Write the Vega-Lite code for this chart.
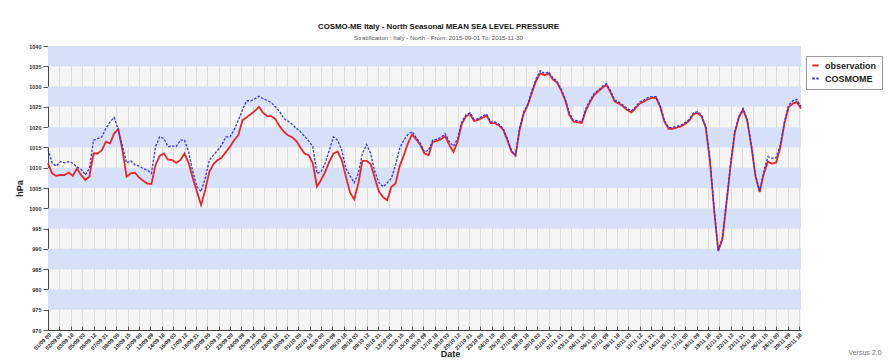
{
  "$schema": "https://vega.github.io/schema/vega-lite/v6.json",
  "width": 753,
  "height": 284,
  "autosize": {"type": "none"},
  "padding": {"left": 48, "top": 46, "right": 89, "bottom": 31},
  "background": "#ffffff",
  "config": {
    "font": "Liberation Sans",
    "view": {"fill": "#f5f5f5", "stroke": null}
  },
  "title": {
    "text": "COSMO-ME Italy - North Seasonal MEAN SEA LEVEL PRESSURE",
    "subtitle": "Stratification : Italy - North - From: 2015-09-01 To: 2015-11-30",
    "anchor": "middle",
    "font": "Liberation Sans",
    "fontSize": 7.8,
    "fontWeight": "bold",
    "color": "#111111",
    "subtitleFont": "Liberation Sans",
    "subtitleFontSize": 6.2,
    "subtitleColor": "#555555",
    "subtitlePadding": 4,
    "offset": 3,
    "dx": 14
  },
  "datasets": {
    "bands": [
      {"lo": 1035, "hi": 1040}, {"lo": 1025, "hi": 1030}, {"lo": 1015, "hi": 1020},
      {"lo": 1005, "hi": 1010}, {"lo": 995, "hi": 1000}, {"lo": 985, "hi": 990},
      {"lo": 975, "hi": 980}
    ],
    "msl": [
      {"t": "2015-09-01T00:00", "observation": 1011.1, "COSMOME": 1014.5},
      {"t": "2015-09-01T12:00", "observation": 1008.6, "COSMOME": 1011.2},
      {"t": "2015-09-02T00:00", "observation": 1008.0, "COSMOME": 1010.4},
      {"t": "2015-09-02T12:00", "observation": 1008.2, "COSMOME": 1011.5},
      {"t": "2015-09-03T00:00", "observation": 1008.2, "COSMOME": 1011.2},
      {"t": "2015-09-03T12:00", "observation": 1008.8, "COSMOME": 1011.5},
      {"t": "2015-09-04T00:00", "observation": 1008.0, "COSMOME": 1011.1},
      {"t": "2015-09-04T12:00", "observation": 1009.8, "COSMOME": 1010.2},
      {"t": "2015-09-05T00:00", "observation": 1008.2, "COSMOME": 1009.6},
      {"t": "2015-09-05T12:00", "observation": 1007.0, "COSMOME": 1008.2},
      {"t": "2015-09-06T00:00", "observation": 1007.8, "COSMOME": 1009.8},
      {"t": "2015-09-06T12:00", "observation": 1013.5, "COSMOME": 1016.8},
      {"t": "2015-09-07T00:00", "observation": 1013.5, "COSMOME": 1017.2},
      {"t": "2015-09-07T12:00", "observation": 1014.3, "COSMOME": 1017.6},
      {"t": "2015-09-08T00:00", "observation": 1016.4, "COSMOME": 1019.7},
      {"t": "2015-09-08T12:00", "observation": 1016.0, "COSMOME": 1021.3},
      {"t": "2015-09-09T00:00", "observation": 1018.5, "COSMOME": 1022.4},
      {"t": "2015-09-09T12:00", "observation": 1019.5, "COSMOME": 1019.3},
      {"t": "2015-09-10T00:00", "observation": 1014.3, "COSMOME": 1015.2},
      {"t": "2015-09-10T12:00", "observation": 1007.8, "COSMOME": 1011.2},
      {"t": "2015-09-11T00:00", "observation": 1008.6, "COSMOME": 1011.7},
      {"t": "2015-09-11T12:00", "observation": 1008.8, "COSMOME": 1010.7},
      {"t": "2015-09-12T00:00", "observation": 1007.6, "COSMOME": 1010.4},
      {"t": "2015-09-12T12:00", "observation": 1006.8, "COSMOME": 1009.8},
      {"t": "2015-09-13T00:00", "observation": 1006.1, "COSMOME": 1009.4},
      {"t": "2015-09-13T12:00", "observation": 1006.0, "COSMOME": 1008.6},
      {"t": "2015-09-14T00:00", "observation": 1010.7, "COSMOME": 1015.2},
      {"t": "2015-09-14T12:00", "observation": 1012.9, "COSMOME": 1017.6},
      {"t": "2015-09-15T00:00", "observation": 1013.5, "COSMOME": 1017.2},
      {"t": "2015-09-15T12:00", "observation": 1012.0, "COSMOME": 1015.2},
      {"t": "2015-09-16T00:00", "observation": 1011.9, "COSMOME": 1015.3},
      {"t": "2015-09-16T12:00", "observation": 1011.2, "COSMOME": 1015.2},
      {"t": "2015-09-17T00:00", "observation": 1011.9, "COSMOME": 1016.8},
      {"t": "2015-09-17T12:00", "observation": 1013.5, "COSMOME": 1016.8},
      {"t": "2015-09-18T00:00", "observation": 1011.1, "COSMOME": 1013.9},
      {"t": "2015-09-18T12:00", "observation": 1007.4, "COSMOME": 1009.0},
      {"t": "2015-09-19T00:00", "observation": 1004.1, "COSMOME": 1005.3},
      {"t": "2015-09-19T12:00", "observation": 1000.8, "COSMOME": 1004.1},
      {"t": "2015-09-20T00:00", "observation": 1004.5, "COSMOME": 1007.4},
      {"t": "2015-09-20T12:00", "observation": 1009.0, "COSMOME": 1011.9},
      {"t": "2015-09-21T00:00", "observation": 1010.9, "COSMOME": 1013.1},
      {"t": "2015-09-21T12:00", "observation": 1011.9, "COSMOME": 1014.3},
      {"t": "2015-09-22T00:00", "observation": 1012.5, "COSMOME": 1015.6},
      {"t": "2015-09-22T12:00", "observation": 1013.9, "COSMOME": 1017.6},
      {"t": "2015-09-23T00:00", "observation": 1015.2, "COSMOME": 1017.6},
      {"t": "2015-09-23T12:00", "observation": 1016.8, "COSMOME": 1019.4},
      {"t": "2015-09-24T00:00", "observation": 1018.0, "COSMOME": 1021.7},
      {"t": "2015-09-24T12:00", "observation": 1021.7, "COSMOME": 1024.2},
      {"t": "2015-09-25T00:00", "observation": 1022.4, "COSMOME": 1026.5},
      {"t": "2015-09-25T12:00", "observation": 1023.2, "COSMOME": 1026.5},
      {"t": "2015-09-26T00:00", "observation": 1024.0, "COSMOME": 1027.0},
      {"t": "2015-09-26T12:00", "observation": 1025.0, "COSMOME": 1027.6},
      {"t": "2015-09-27T00:00", "observation": 1023.5, "COSMOME": 1027.0},
      {"t": "2015-09-27T12:00", "observation": 1022.7, "COSMOME": 1026.6},
      {"t": "2015-09-28T00:00", "observation": 1022.7, "COSMOME": 1026.0},
      {"t": "2015-09-28T12:00", "observation": 1021.9, "COSMOME": 1025.0},
      {"t": "2015-09-29T00:00", "observation": 1020.2, "COSMOME": 1023.8},
      {"t": "2015-09-29T12:00", "observation": 1018.9, "COSMOME": 1022.1},
      {"t": "2015-09-30T00:00", "observation": 1018.0, "COSMOME": 1021.5},
      {"t": "2015-09-30T12:00", "observation": 1017.5, "COSMOME": 1020.7},
      {"t": "2015-10-01T00:00", "observation": 1016.6, "COSMOME": 1019.7},
      {"t": "2015-10-01T12:00", "observation": 1015.0, "COSMOME": 1018.9},
      {"t": "2015-10-02T00:00", "observation": 1013.5, "COSMOME": 1017.8},
      {"t": "2015-10-02T12:00", "observation": 1013.1, "COSMOME": 1016.6},
      {"t": "2015-10-03T00:00", "observation": 1011.1, "COSMOME": 1015.2},
      {"t": "2015-10-03T12:00", "observation": 1005.3, "COSMOME": 1008.6},
      {"t": "2015-10-04T00:00", "observation": 1007.0, "COSMOME": 1009.0},
      {"t": "2015-10-04T12:00", "observation": 1009.0, "COSMOME": 1011.1},
      {"t": "2015-10-05T00:00", "observation": 1011.5, "COSMOME": 1014.3},
      {"t": "2015-10-05T12:00", "observation": 1013.5, "COSMOME": 1017.6},
      {"t": "2015-10-06T00:00", "observation": 1014.0, "COSMOME": 1016.8},
      {"t": "2015-10-06T12:00", "observation": 1011.9, "COSMOME": 1014.3},
      {"t": "2015-10-07T00:00", "observation": 1007.8, "COSMOME": 1009.8},
      {"t": "2015-10-07T12:00", "observation": 1003.9, "COSMOME": 1008.0},
      {"t": "2015-10-08T00:00", "observation": 1002.2, "COSMOME": 1006.3},
      {"t": "2015-10-08T12:00", "observation": 1006.1, "COSMOME": 1008.6},
      {"t": "2015-10-09T00:00", "observation": 1011.7, "COSMOME": 1013.5},
      {"t": "2015-10-09T12:00", "observation": 1011.7, "COSMOME": 1015.7},
      {"t": "2015-10-10T00:00", "observation": 1010.9, "COSMOME": 1013.5},
      {"t": "2015-10-10T12:00", "observation": 1007.4, "COSMOME": 1009.0},
      {"t": "2015-10-11T00:00", "observation": 1004.1, "COSMOME": 1006.3},
      {"t": "2015-10-11T12:00", "observation": 1002.7, "COSMOME": 1005.3},
      {"t": "2015-10-12T00:00", "observation": 1002.0, "COSMOME": 1006.3},
      {"t": "2015-10-12T12:00", "observation": 1005.3, "COSMOME": 1007.4},
      {"t": "2015-10-13T00:00", "observation": 1006.1, "COSMOME": 1010.7},
      {"t": "2015-10-13T12:00", "observation": 1010.4, "COSMOME": 1014.8},
      {"t": "2015-10-14T00:00", "observation": 1013.1, "COSMOME": 1016.8},
      {"t": "2015-10-14T12:00", "observation": 1016.0, "COSMOME": 1018.2},
      {"t": "2015-10-15T00:00", "observation": 1018.2, "COSMOME": 1018.9},
      {"t": "2015-10-15T12:00", "observation": 1017.0, "COSMOME": 1017.4},
      {"t": "2015-10-16T00:00", "observation": 1015.6, "COSMOME": 1016.0},
      {"t": "2015-10-16T12:00", "observation": 1013.5, "COSMOME": 1013.9},
      {"t": "2015-10-17T00:00", "observation": 1013.1, "COSMOME": 1014.3},
      {"t": "2015-10-17T12:00", "observation": 1016.4, "COSMOME": 1016.8},
      {"t": "2015-10-18T00:00", "observation": 1016.6, "COSMOME": 1017.0},
      {"t": "2015-10-18T12:00", "observation": 1017.0, "COSMOME": 1017.5},
      {"t": "2015-10-19T00:00", "observation": 1017.8, "COSMOME": 1018.4},
      {"t": "2015-10-19T12:00", "observation": 1015.6, "COSMOME": 1016.4},
      {"t": "2015-10-20T00:00", "observation": 1013.9, "COSMOME": 1015.3},
      {"t": "2015-10-20T12:00", "observation": 1016.4, "COSMOME": 1017.2},
      {"t": "2015-10-21T00:00", "observation": 1020.8, "COSMOME": 1021.3},
      {"t": "2015-10-21T12:00", "observation": 1022.6, "COSMOME": 1023.0},
      {"t": "2015-10-22T00:00", "observation": 1023.2, "COSMOME": 1023.5},
      {"t": "2015-10-22T12:00", "observation": 1021.5, "COSMOME": 1021.9},
      {"t": "2015-10-23T00:00", "observation": 1021.8, "COSMOME": 1022.1},
      {"t": "2015-10-23T12:00", "observation": 1022.3, "COSMOME": 1022.7},
      {"t": "2015-10-24T00:00", "observation": 1022.9, "COSMOME": 1023.2},
      {"t": "2015-10-24T12:00", "observation": 1021.0, "COSMOME": 1021.3},
      {"t": "2015-10-25T00:00", "observation": 1021.0, "COSMOME": 1021.3},
      {"t": "2015-10-25T12:00", "observation": 1020.4, "COSMOME": 1020.7},
      {"t": "2015-10-26T00:00", "observation": 1019.4, "COSMOME": 1019.7},
      {"t": "2015-10-26T12:00", "observation": 1016.9, "COSMOME": 1017.2},
      {"t": "2015-10-27T00:00", "observation": 1014.0, "COSMOME": 1014.3},
      {"t": "2015-10-27T12:00", "observation": 1013.0, "COSMOME": 1013.1},
      {"t": "2015-10-28T00:00", "observation": 1019.4, "COSMOME": 1019.9},
      {"t": "2015-10-28T12:00", "observation": 1023.4, "COSMOME": 1023.8},
      {"t": "2015-10-29T00:00", "observation": 1025.5, "COSMOME": 1025.8},
      {"t": "2015-10-29T12:00", "observation": 1028.6, "COSMOME": 1029.1},
      {"t": "2015-10-30T00:00", "observation": 1031.5, "COSMOME": 1032.0},
      {"t": "2015-10-30T12:00", "observation": 1033.3, "COSMOME": 1033.9},
      {"t": "2015-10-31T00:00", "observation": 1032.8, "COSMOME": 1033.2},
      {"t": "2015-10-31T12:00", "observation": 1033.2, "COSMOME": 1033.6},
      {"t": "2015-11-01T00:00", "observation": 1031.8, "COSMOME": 1032.2},
      {"t": "2015-11-01T12:00", "observation": 1031.0, "COSMOME": 1031.4},
      {"t": "2015-11-02T00:00", "observation": 1029.1, "COSMOME": 1029.5},
      {"t": "2015-11-02T12:00", "observation": 1026.7, "COSMOME": 1027.0},
      {"t": "2015-11-03T00:00", "observation": 1023.0, "COSMOME": 1023.5},
      {"t": "2015-11-03T12:00", "observation": 1021.4, "COSMOME": 1021.7},
      {"t": "2015-11-04T00:00", "observation": 1021.2, "COSMOME": 1021.6},
      {"t": "2015-11-04T12:00", "observation": 1021.0, "COSMOME": 1021.3},
      {"t": "2015-11-05T00:00", "observation": 1024.1, "COSMOME": 1024.6},
      {"t": "2015-11-05T12:00", "observation": 1026.2, "COSMOME": 1026.6},
      {"t": "2015-11-06T00:00", "observation": 1027.9, "COSMOME": 1028.3},
      {"t": "2015-11-06T12:00", "observation": 1028.8, "COSMOME": 1029.1},
      {"t": "2015-11-07T00:00", "observation": 1029.7, "COSMOME": 1030.1},
      {"t": "2015-11-07T12:00", "observation": 1030.4, "COSMOME": 1030.7},
      {"t": "2015-11-08T00:00", "observation": 1028.5, "COSMOME": 1028.9},
      {"t": "2015-11-08T12:00", "observation": 1026.3, "COSMOME": 1026.6},
      {"t": "2015-11-09T00:00", "observation": 1025.8, "COSMOME": 1026.2},
      {"t": "2015-11-09T12:00", "observation": 1025.1, "COSMOME": 1025.4},
      {"t": "2015-11-10T00:00", "observation": 1024.2, "COSMOME": 1024.6},
      {"t": "2015-11-10T12:00", "observation": 1023.6, "COSMOME": 1024.0},
      {"t": "2015-11-11T00:00", "observation": 1024.7, "COSMOME": 1025.0},
      {"t": "2015-11-11T12:00", "observation": 1025.8, "COSMOME": 1026.2},
      {"t": "2015-11-12T00:00", "observation": 1026.3, "COSMOME": 1026.6},
      {"t": "2015-11-12T12:00", "observation": 1026.9, "COSMOME": 1027.3},
      {"t": "2015-11-13T00:00", "observation": 1027.2, "COSMOME": 1027.5},
      {"t": "2015-11-13T12:00", "observation": 1027.2, "COSMOME": 1027.5},
      {"t": "2015-11-14T00:00", "observation": 1024.9, "COSMOME": 1025.2},
      {"t": "2015-11-14T12:00", "observation": 1021.3, "COSMOME": 1021.6},
      {"t": "2015-11-15T00:00", "observation": 1019.6, "COSMOME": 1019.9},
      {"t": "2015-11-15T12:00", "observation": 1019.6, "COSMOME": 1019.9},
      {"t": "2015-11-16T00:00", "observation": 1019.9, "COSMOME": 1020.2},
      {"t": "2015-11-16T12:00", "observation": 1020.2, "COSMOME": 1020.5},
      {"t": "2015-11-17T00:00", "observation": 1020.8, "COSMOME": 1021.1},
      {"t": "2015-11-17T12:00", "observation": 1021.6, "COSMOME": 1021.9},
      {"t": "2015-11-18T00:00", "observation": 1023.2, "COSMOME": 1023.5},
      {"t": "2015-11-18T12:00", "observation": 1023.5, "COSMOME": 1023.8},
      {"t": "2015-11-19T00:00", "observation": 1022.6, "COSMOME": 1022.9},
      {"t": "2015-11-19T12:00", "observation": 1019.8, "COSMOME": 1020.1},
      {"t": "2015-11-20T00:00", "observation": 1011.6, "COSMOME": 1011.9},
      {"t": "2015-11-20T12:00", "observation": 999.6, "COSMOME": 1000.0},
      {"t": "2015-11-21T00:00", "observation": 989.5, "COSMOME": 989.6},
      {"t": "2015-11-21T12:00", "observation": 992.3, "COSMOME": 992.8},
      {"t": "2015-11-22T00:00", "observation": 1001.3, "COSMOME": 1001.6},
      {"t": "2015-11-22T12:00", "observation": 1010.8, "COSMOME": 1011.1},
      {"t": "2015-11-23T00:00", "observation": 1018.6, "COSMOME": 1018.9},
      {"t": "2015-11-23T12:00", "observation": 1022.4, "COSMOME": 1022.7},
      {"t": "2015-11-24T00:00", "observation": 1024.3, "COSMOME": 1024.6},
      {"t": "2015-11-24T12:00", "observation": 1021.6, "COSMOME": 1021.9},
      {"t": "2015-11-25T00:00", "observation": 1015.3, "COSMOME": 1015.6},
      {"t": "2015-11-25T12:00", "observation": 1007.9, "COSMOME": 1008.2},
      {"t": "2015-11-26T00:00", "observation": 1004.0, "COSMOME": 1004.3},
      {"t": "2015-11-26T12:00", "observation": 1008.5, "COSMOME": 1009.0},
      {"t": "2015-11-27T00:00", "observation": 1011.5, "COSMOME": 1012.7},
      {"t": "2015-11-27T12:00", "observation": 1011.0, "COSMOME": 1012.3},
      {"t": "2015-11-28T00:00", "observation": 1011.3, "COSMOME": 1012.5},
      {"t": "2015-11-28T12:00", "observation": 1015.0, "COSMOME": 1015.6},
      {"t": "2015-11-29T00:00", "observation": 1020.9, "COSMOME": 1021.3},
      {"t": "2015-11-29T12:00", "observation": 1024.9, "COSMOME": 1025.4},
      {"t": "2015-11-30T00:00", "observation": 1025.8, "COSMOME": 1026.5},
      {"t": "2015-11-30T12:00", "observation": 1026.2, "COSMOME": 1026.8},
      {"t": "2015-12-01T00:00", "observation": 1024.6, "COSMOME": 1025.0}
    ],
    "note": [{"label": "Versus 2.0"}]
  },
  "layer": [
    {
      "data": {"name": "bands"},
      "mark": {"type": "rect", "color": "#d6e0f8"},
      "encoding": {
        "y": {
          "field": "lo",
          "type": "quantitative",
          "scale": {"domain": [970, 1040], "nice": false, "zero": false},
          "axis": {
            "title": "hPa",
            "titleFont": "Liberation Sans",
            "titleFontSize": 9,
            "titleFontWeight": "bold",
            "titleColor": "#222222",
            "titlePadding": 4,
            "values": [970, 975, 980, 985, 990, 995, 1000, 1005, 1010, 1015, 1020, 1025, 1030, 1035, 1040],
            "tickCount": 40,
            "format": "d",
            "labelOverlap": false,
            "labelFont": "Liberation Sans",
            "labelFontSize": 5.5,
            "labelFontWeight": "bold",
            "labelColor": "#333333",
            "labelPadding": 2,
            "grid": false,
            "tickSize": 5,
            "tickColor": "#555555",
            "domainColor": "#444444"
          }
        },
        "y2": {"field": "hi"}
      }
    },
    {
      "data": {"name": "msl"},
      "transform": [
        {"fold": ["observation", "COSMOME"], "as": ["series", "hPa"]},
        {"filter": "datum.series === 'observation'"}
      ],
      "mark": {"type": "line", "strokeWidth": 1.8},
      "encoding": {
        "x": {
          "field": "t",
          "type": "temporal",
          "scale": {"domain": [{"year": 2015, "month": 9, "date": 1}, {"year": 2015, "month": 12, "date": 1}]},
          "axis": {
            "title": "Date",
            "titleFont": "Liberation Sans",
            "titleFontSize": 9,
            "titleFontWeight": "bold",
            "titleColor": "#222222",
            "titleX": 402,
            "titleY": 23,
            "titleBaseline": "middle",
            "format": "%d/%m %H",
            "tickCount": 200,
            "labelAngle": -45,
            "labelFont": "Liberation Sans",
            "labelFontSize": 5.5,
            "labelFontWeight": "bold",
            "labelColor": "#222222",
            "labelPadding": 6,
            "labelOverlap": false,
            "labelFlush": false,
            "tickSize": -4,
            "tickColor": "#555555",
            "domainColor": "#444444",
            "grid": true,
            "gridColor": "#dadada",
            "values": [
              {"year": 2015, "month": 9, "date": 1, "hours": 0},
              {"year": 2015, "month": 9, "date": 2, "hours": 9},
              {"year": 2015, "month": 9, "date": 3, "hours": 18},
              {"year": 2015, "month": 9, "date": 5, "hours": 3},
              {"year": 2015, "month": 9, "date": 6, "hours": 12},
              {"year": 2015, "month": 9, "date": 7, "hours": 21},
              {"year": 2015, "month": 9, "date": 9, "hours": 6},
              {"year": 2015, "month": 9, "date": 10, "hours": 15},
              {"year": 2015, "month": 9, "date": 12, "hours": 0},
              {"year": 2015, "month": 9, "date": 13, "hours": 9},
              {"year": 2015, "month": 9, "date": 14, "hours": 18},
              {"year": 2015, "month": 9, "date": 16, "hours": 3},
              {"year": 2015, "month": 9, "date": 17, "hours": 12},
              {"year": 2015, "month": 9, "date": 18, "hours": 21},
              {"year": 2015, "month": 9, "date": 20, "hours": 6},
              {"year": 2015, "month": 9, "date": 21, "hours": 15},
              {"year": 2015, "month": 9, "date": 23, "hours": 0},
              {"year": 2015, "month": 9, "date": 24, "hours": 9},
              {"year": 2015, "month": 9, "date": 25, "hours": 18},
              {"year": 2015, "month": 9, "date": 27, "hours": 3},
              {"year": 2015, "month": 9, "date": 28, "hours": 12},
              {"year": 2015, "month": 9, "date": 29, "hours": 21},
              {"year": 2015, "month": 10, "date": 1, "hours": 6},
              {"year": 2015, "month": 10, "date": 2, "hours": 15},
              {"year": 2015, "month": 10, "date": 4, "hours": 0},
              {"year": 2015, "month": 10, "date": 5, "hours": 9},
              {"year": 2015, "month": 10, "date": 6, "hours": 18},
              {"year": 2015, "month": 10, "date": 8, "hours": 3},
              {"year": 2015, "month": 10, "date": 9, "hours": 12},
              {"year": 2015, "month": 10, "date": 10, "hours": 21},
              {"year": 2015, "month": 10, "date": 12, "hours": 6},
              {"year": 2015, "month": 10, "date": 13, "hours": 15},
              {"year": 2015, "month": 10, "date": 15, "hours": 0},
              {"year": 2015, "month": 10, "date": 16, "hours": 9},
              {"year": 2015, "month": 10, "date": 17, "hours": 18},
              {"year": 2015, "month": 10, "date": 19, "hours": 3},
              {"year": 2015, "month": 10, "date": 20, "hours": 12},
              {"year": 2015, "month": 10, "date": 21, "hours": 21},
              {"year": 2015, "month": 10, "date": 23, "hours": 6},
              {"year": 2015, "month": 10, "date": 24, "hours": 15},
              {"year": 2015, "month": 10, "date": 26, "hours": 0},
              {"year": 2015, "month": 10, "date": 27, "hours": 9},
              {"year": 2015, "month": 10, "date": 28, "hours": 18},
              {"year": 2015, "month": 10, "date": 30, "hours": 3},
              {"year": 2015, "month": 10, "date": 31, "hours": 12},
              {"year": 2015, "month": 11, "date": 1, "hours": 21},
              {"year": 2015, "month": 11, "date": 3, "hours": 6},
              {"year": 2015, "month": 11, "date": 4, "hours": 15},
              {"year": 2015, "month": 11, "date": 6, "hours": 0},
              {"year": 2015, "month": 11, "date": 7, "hours": 9},
              {"year": 2015, "month": 11, "date": 8, "hours": 18},
              {"year": 2015, "month": 11, "date": 10, "hours": 3},
              {"year": 2015, "month": 11, "date": 11, "hours": 12},
              {"year": 2015, "month": 11, "date": 12, "hours": 21},
              {"year": 2015, "month": 11, "date": 14, "hours": 6},
              {"year": 2015, "month": 11, "date": 15, "hours": 15},
              {"year": 2015, "month": 11, "date": 17, "hours": 0},
              {"year": 2015, "month": 11, "date": 18, "hours": 9},
              {"year": 2015, "month": 11, "date": 19, "hours": 18},
              {"year": 2015, "month": 11, "date": 21, "hours": 3},
              {"year": 2015, "month": 11, "date": 22, "hours": 12},
              {"year": 2015, "month": 11, "date": 23, "hours": 21},
              {"year": 2015, "month": 11, "date": 25, "hours": 6},
              {"year": 2015, "month": 11, "date": 26, "hours": 15},
              {"year": 2015, "month": 11, "date": 28, "hours": 0},
              {"year": 2015, "month": 11, "date": 29, "hours": 9},
              {"year": 2015, "month": 11, "date": 30, "hours": 18}
            ]
          }
        },
        "y": {"field": "hPa", "type": "quantitative"},
        "color": {
          "field": "series",
          "type": "nominal",
          "scale": {"domain": ["observation", "COSMOME"], "range": ["#e8262a", "#3535d6"]},
          "legend": {
            "orient": "none",
            "legendX": 758,
            "legendY": 10,
            "title": null,
            "strokeColor": "#9a9a9a",
            "fillColor": "#ffffff",
            "padding": 5,
            "labelFont": "Liberation Sans",
            "labelFontSize": 9,
            "labelFontWeight": "bold",
            "labelColor": "#222222",
            "labelOffset": 5,
            "symbolType": "stroke",
            "symbolSize": 40,
            "symbolStrokeWidth": 2,
            "rowPadding": 3
          }
        },
        "strokeDash": {
          "field": "series",
          "type": "nominal",
          "scale": {"domain": ["observation", "COSMOME"], "range": [[1, 0], [2.5, 1.5]]},
          "legend": {
            "orient": "none",
            "legendX": 758,
            "legendY": 10,
            "title": null,
            "strokeColor": "#9a9a9a",
            "fillColor": "#ffffff",
            "padding": 5,
            "labelFont": "Liberation Sans",
            "labelFontSize": 9,
            "labelFontWeight": "bold",
            "labelColor": "#222222",
            "labelOffset": 5,
            "symbolType": "stroke",
            "symbolSize": 40,
            "symbolStrokeWidth": 2,
            "rowPadding": 3
          }
        }
      }
    },
    {
      "data": {"name": "msl"},
      "transform": [
        {"fold": ["observation", "COSMOME"], "as": ["series", "hPa"]},
        {"filter": "datum.series === 'COSMOME'"}
      ],
      "mark": {"type": "line", "strokeWidth": 1.3},
      "encoding": {
        "x": {"field": "t", "type": "temporal"},
        "y": {"field": "hPa", "type": "quantitative"},
        "color": {"field": "series", "type": "nominal"},
        "strokeDash": {"field": "series", "type": "nominal"}
      }
    },
    {
      "data": {"name": "note"},
      "mark": {"type": "text", "font": "Liberation Sans", "fontSize": 7, "color": "#777777", "dx": 64, "dy": 23, "align": "center", "baseline": "middle"},
      "encoding": {
        "x": {"datum": {"year": 2015, "month": 12, "date": 1}, "type": "temporal"},
        "y": {"datum": 970, "type": "quantitative"},
        "text": {"field": "label"}
      }
    }
  ]
}
